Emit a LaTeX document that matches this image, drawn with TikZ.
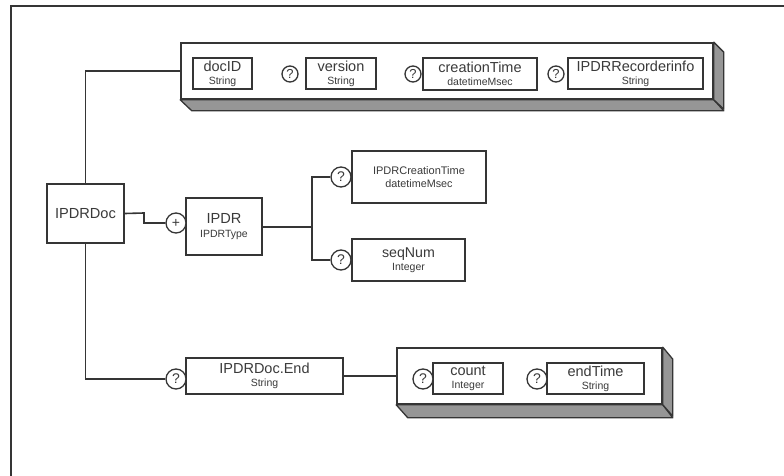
\documentclass[tikz,border=0pt]{standalone}
\usepackage{fontspec}
\setmainfont{Liberation Sans}
\definecolor{ln}{HTML}{353535}
\definecolor{tx}{HTML}{3A3A3A}
\definecolor{shd}{HTML}{969696}
\newcommand\elmlbl[4]{{\fontsize{#1}{#1}\selectfont #3}\\[#2]{\fontsize{10.5}{10.5}\selectfont #4}}
\tikzset{
  elem/.style={draw=ln, line width=1.6pt, fill=white, rectangle, inner sep=0pt, align=center, text=tx},
  grp/.style={draw=ln, line width=1.6pt, fill=white, rectangle, inner sep=0pt},
  face/.style={draw=ln, line width=1.3pt, fill=shd, line join=round},
  opt/.style={draw=ln, line width=1.3pt, fill=white, circle, inner sep=0pt, minimum size=20pt, text=tx, font=\fontsize{14}{14}\selectfont},
  optsm/.style={opt, minimum size=16pt, font=\fontsize{13}{13}\selectfont},
  conn/.style={draw=ln, line width=1.6pt}
}
\begin{document}
\begin{tikzpicture}[x=1pt,y=-1pt]
\useasboundingbox (0,0) rectangle (784,476);
\fill[white] (0,0) rectangle (784,476);
\draw[draw=ln, line width=1.5pt] (11,480) -- (11,6) -- (790,6);

% top group
\node[grp, minimum width=532pt, minimum height=56pt] (grp1) at (447,71) {};
\draw[face] (grp1.south west) -- (grp1.south east) -- ++(10,11) -- ++(-532,0) -- cycle;
\draw[face] (grp1.north east) -- ++(10,10) -- ++(0,57) -- (grp1.south east) -- cycle;
\node[elem, minimum width=59pt, minimum height=31pt] (docid) at (222.5,73.5) {\elmlbl{14.5}{1pt}{docID}{String}};
\node[elem, minimum width=70pt, minimum height=31pt] (version) at (341,73.5) {\elmlbl{14.5}{1pt}{version}{String}};
\node[optsm] (qv) at (290,74) {?};
\node[elem, minimum width=114pt, minimum height=32pt] (ctime) at (480,74) {\elmlbl{14.5}{1pt}{creationTime}{datetimeMsec}};
\node[optsm] (qc) at (413,74) {?};
\node[elem, minimum width=135pt, minimum height=31pt] (recinfo) at (635.5,73.5) {\elmlbl{14.5}{1pt}{IPDRRecorderinfo}{String}};
\node[optsm] (qr) at (556,74) {?};

% root
\node[elem, minimum width=77pt, minimum height=59pt, font=\fontsize{14.6}{14.6}\selectfont] (doc) at (85.5,213.5) {IPDRDoc};

% IPDR
\node[elem, minimum width=76pt, minimum height=57pt] (ipdr) at (224,226.5) {\elmlbl{14.6}{2pt}{IPDR}{IPDRType}};
\node[opt] (plus) at (176,223) {+};
\node[elem, minimum width=134pt, minimum height=52pt] (cretime) at (419,177) {{\fontsize{11}{11}\selectfont IPDRCreationTime}\\[1pt]{\fontsize{10.8}{10.8}\selectfont datetimeMsec}};
\node[opt] (q1) at (341,177) {?};
\node[elem, minimum width=113pt, minimum height=42pt] (seq) at (408.5,260) {\elmlbl{14.2}{1pt}{seqNum}{Integer}};
\node[opt] (q2) at (341,260) {?};
\coordinate (split) at (312,227);

% end
\node[elem, minimum width=157pt, minimum height=36pt] (dend) at (264.5,376) {\elmlbl{14.5}{1pt}{IPDRDoc.End}{String}};
\node[opt] (q4) at (176,379) {?};

% bottom group
\node[grp, minimum width=265pt, minimum height=56pt] (grp2) at (529.5,376) {};
\draw[face] (grp2.south west) -- (grp2.south east) -- ++(10,13) -- ++(-265,0) -- cycle;
\draw[face] (grp2.north east) -- ++(10,12) -- ++(0,57) -- (grp2.south east) -- cycle;
\node[elem, minimum width=70pt, minimum height=31pt] (count) at (468,378.5) {\elmlbl{14.5}{1pt}{count}{Integer}};
\node[opt] (qn) at (423,379) {?};
\node[elem, minimum width=97pt, minimum height=31pt] (endt) at (595.5,378.5) {\elmlbl{14.5}{1pt}{endTime}{String}};
\node[opt] (qe) at (537,379) {?};

% connectors
\draw[conn] (doc.north) |- (grp1.west);
\draw[conn] (doc.south) |- (q4.west);
\draw[conn] (doc.east) -- (144,213) -- (144,223) -- (plus.west);
\draw[conn] (ipdr.east |- split) -- (split);
\draw[conn] (split) |- (q1.west);
\draw[conn] (split) |- (q2.west);
\draw[conn] (dend.east) -- (grp2.west);
\end{tikzpicture}
\end{document}
